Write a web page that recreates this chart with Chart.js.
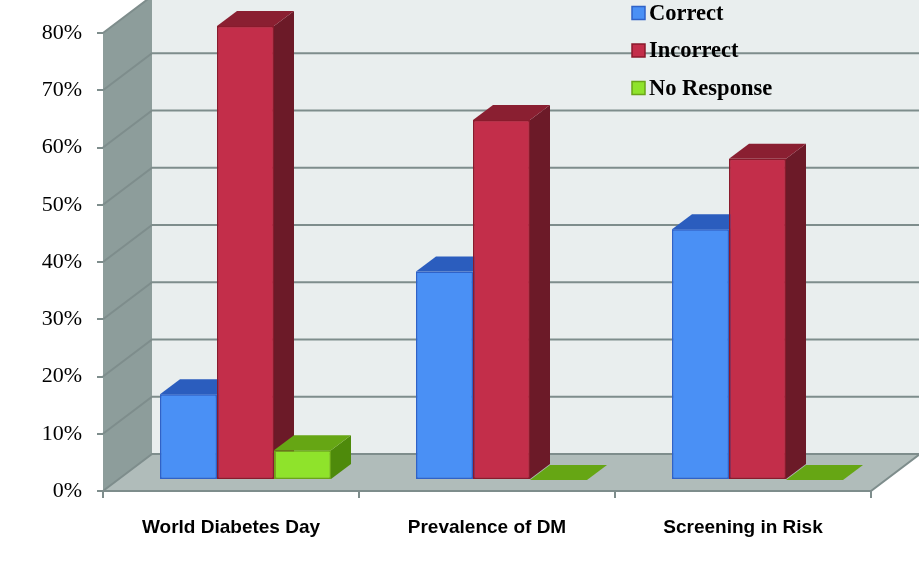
<!DOCTYPE html>
<html>
<head>
<meta charset="utf-8">
<script src="https://cdn.jsdelivr.net/npm/chart.js@4/dist/chart.umd.min.js"></script>
<style>
  html, body { margin: 0; padding: 0; background: #fff; }
  #wrap { width: 919px; height: 574px; }
</style>
</head>
<body>
<div id="wrap"><canvas id="chart" width="919" height="574"></canvas></div>
<script>
// data (percent)
const categories = ["World Diabetes Day", "Prevalence of DM", "Screening in Risk"];
const seriesNames = ["Correct", "Incorrect", "No Response"];
const correct = [15, 36.4, 43.8];
const incorrect = [79.3, 62.9, 56.1];
const noResponse = [5.2, 0, 0];
const yTicks = [0, 10, 20, 30, 40, 50, 60, 70, 80];

// face colours: front, border, top, side
const palette = [
  { front: "#4A90F5", border: "#2F62C8", top: "#2B5DBE", side: "#1F4A9E" },
  { front: "#C32E4A", border: "#8A1A2C", top: "#8A1F31", side: "#6C1A28" },
  { front: "#8FE32B", border: "#6AA518", top: "#66A614", side: "#4E8A0B" }
];

const WALL_DX = 49, WALL_DY = -37;   // full depth of the box
const BAR_DX = 14.5, BAR_DY = -11;   // where bars stand in the box
const DEPTH_DX = 20, DEPTH_DY = -15; // bar thickness
const gridColor = "#7E8D8C";

const poly = (ctx, pts, fill) => {
  ctx.beginPath();
  ctx.moveTo(pts[0][0], pts[0][1]);
  pts.slice(1).forEach(p => ctx.lineTo(p[0], p[1]));
  ctx.closePath();
  ctx.fillStyle = fill;
  ctx.fill();
};

const box3d = {
  id: "box3d",
  beforeDraw(chart) {
    const { ctx, chartArea: a, scales } = chart;
    const L = a.left, R = a.right, T = a.top, B = a.bottom;
    ctx.save();
    ctx.fillStyle = "#fff";
    ctx.fillRect(0, 0, chart.width, chart.height);
    // back wall, left wall, floor
    poly(ctx, [[L + WALL_DX, T + WALL_DY - 40], [R + WALL_DX, T + WALL_DY - 40], [R + WALL_DX, B + WALL_DY], [L + WALL_DX, B + WALL_DY]], "#E9EEEE");
    poly(ctx, [[L, T], [L + WALL_DX, T + WALL_DY], [L + WALL_DX, B + WALL_DY], [L, B]], "#8D9D9B");
    poly(ctx, [[L, B], [R, B], [R + WALL_DX, B + WALL_DY], [L + WALL_DX, B + WALL_DY]], "#B0BCBA");
    // gridlines on walls
    ctx.strokeStyle = gridColor;
    ctx.lineWidth = 2;
    yTicks.forEach(v => {
      const y = scales.y.getPixelForValue(v);
      ctx.beginPath();
      ctx.moveTo(L, y);
      ctx.lineTo(L + WALL_DX, y + WALL_DY);
      ctx.lineTo(R + WALL_DX, y + WALL_DY);
      ctx.stroke();
    });
    // floor edges
    ctx.beginPath();
    ctx.moveTo(L, B);
    ctx.lineTo(R, B);
    ctx.lineTo(R + WALL_DX, B + WALL_DY);
    ctx.stroke();
    ctx.restore();
  },
  beforeDatasetsDraw(chart) {
    chart.ctx.save();
    chart.ctx.translate(BAR_DX, BAR_DY);
  },
  afterDatasetsDraw(chart) {
    const ctx = chart.ctx;
    categories.forEach((c, i) => {
      chart.data.datasets.forEach((ds, d) => {
        const bar = chart.getDatasetMeta(d).data[i];
        const { x, y, base, width } = bar.getProps(["x", "y", "base", "width"], true);
        const l = x - width / 2, r = x + width / 2;
        const col = palette[d];
        poly(ctx, [[r, y], [r + DEPTH_DX, y + DEPTH_DY], [r + DEPTH_DX, base + DEPTH_DY], [r, base]], col.side);
        poly(ctx, [[l, y], [l + DEPTH_DX, y + DEPTH_DY], [r + DEPTH_DX, y + DEPTH_DY], [r, y]], col.top);
        if (base - y > 0.5) bar.draw(ctx);
      });
    });
    ctx.restore();
  },
  afterDraw(chart) {
    const ctx = chart.ctx;
    ctx.save();
    ctx.font = "bold 22.5px 'Liberation Serif', 'Times New Roman', serif";
    ctx.textBaseline = "middle";
    chart.data.datasets.forEach((ds, d) => {
      const yc = 13 + d * 37.5;
      ctx.fillStyle = palette[d].front;
      ctx.fillRect(632, yc - 6.5, 13, 13);
      ctx.strokeStyle = palette[d].border;
      ctx.lineWidth = 1.5;
      ctx.strokeRect(632, yc - 6.5, 13, 13);
      ctx.fillStyle = "#000";
      ctx.fillText(ds.label, 649, yc + 1);
    });
    ctx.restore();
  }
};

const series = [correct, incorrect, noResponse];

new Chart(document.getElementById("chart"), {
  type: "bar",
  data: {
    labels: categories,
    datasets: series.map((vals, d) => ({
      label: seriesNames[d],
      data: vals,
      backgroundColor: palette[d].front,
      borderColor: palette[d].border,
      borderWidth: 1.5,
      borderSkipped: false,
      categoryPercentage: 0.668,
      barPercentage: 1,
      clip: false
    }))
  },
  options: {
    responsive: false,
    devicePixelRatio: 1,
    animation: false,
    layout: { padding: { top: 33, right: 48, left: 0, bottom: 0 } },
    plugins: { legend: { display: false }, tooltip: { enabled: false } },
    scales: {
      x: {
        afterFit: s => { s.height = 83; },
        border: { display: false },
        grid: { drawOnChartArea: false, offset: true, tickLength: 7, tickColor: gridColor, lineWidth: 2 },
        ticks: {
          color: "#000",
          padding: 18,
          maxRotation: 0,
          font: { family: "'Liberation Sans', Arial, sans-serif", size: 19, weight: "bold" }
        }
      },
      y: {
        min: 0,
        max: 80,
        afterFit: s => { s.width = 103; },
        border: { display: false },
        grid: { drawOnChartArea: false, tickLength: 6, tickColor: gridColor, lineWidth: 2 },
        ticks: {
          stepSize: 10,
          padding: 15,
          color: "#000",
          font: { family: "'Liberation Serif', 'Times New Roman', serif", size: 22 },
          callback: v => v + "%"
        }
      }
    }
  },
  plugins: [box3d]
});
</script>
</body>
</html>
